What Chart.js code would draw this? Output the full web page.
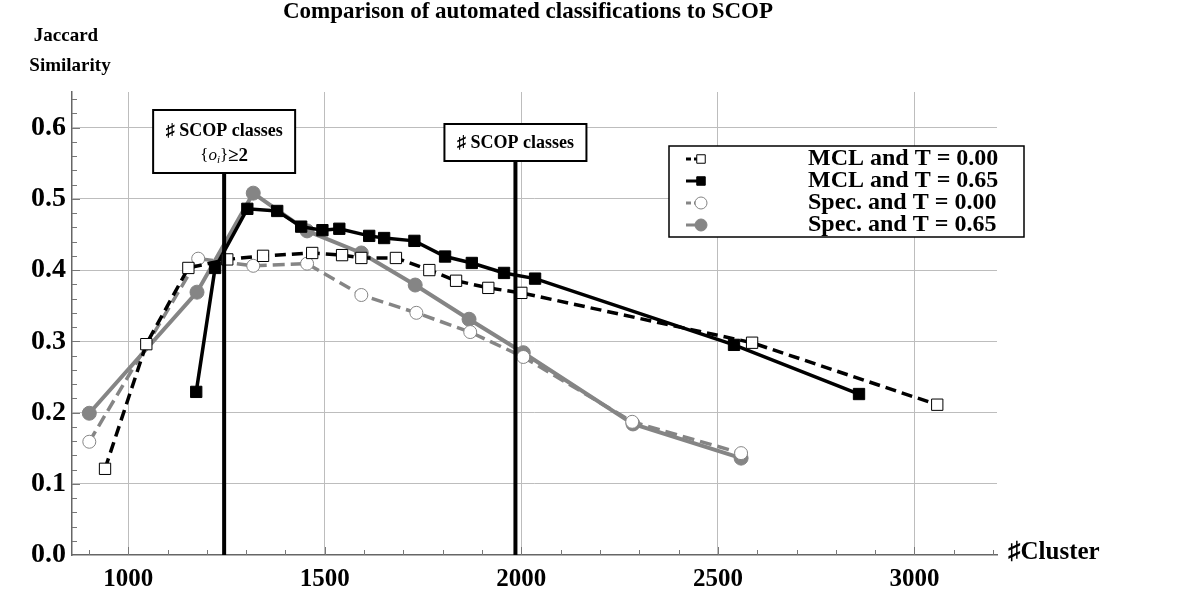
<!DOCTYPE html>
<html>
<head>
<meta charset="utf-8">
<title>Comparison of automated classifications to SCOP</title>
<script src="https://cdn.jsdelivr.net/npm/chart.js@4/dist/chart.umd.min.js"></script>
<style>
  html, body { margin: 0; padding: 0; background: #fff; }
  #chart { display: block; }
</style>
</head>
<body>
<canvas id="chart" width="1200" height="610"></canvas>
<script>
// values
const mclT000X = [941, 1046, 1153, 1252, 1343, 1468, 1544, 1593, 1681, 1766, 1834, 1916, 2000, 2587, 3058];
const mclT000Y = [0.121, 0.296, 0.403, 0.415, 0.420, 0.424, 0.421, 0.417, 0.417, 0.400, 0.385, 0.375, 0.368, 0.298, 0.211];

const mclT065X = [1173, 1221, 1303, 1379, 1440, 1494, 1537, 1613, 1651, 1728, 1806, 1874, 1956, 2035, 2541, 2859];
const mclT065Y = [0.229, 0.403, 0.486, 0.483, 0.461, 0.456, 0.458, 0.448, 0.445, 0.441, 0.419, 0.410, 0.396, 0.388, 0.295, 0.226];

const specT000X = [901, 1178, 1318, 1455, 1593, 1733, 1870, 2005, 2282, 2559];
const specT000Y = [0.159, 0.416, 0.406, 0.409, 0.365, 0.340, 0.313, 0.278, 0.187, 0.143];

const specT065X = [901, 1175, 1318, 1455, 1593, 1730, 1867, 2005, 2284, 2559];
const specT065Y = [0.199, 0.369, 0.508, 0.455, 0.424, 0.379, 0.331, 0.284, 0.184, 0.136];

const seriesLabels = ['MCL and T = 0.00', 'MCL and T = 0.65', 'Spec. and T = 0.00', 'Spec. and T = 0.65'];

// tick positions (minor every 100 / 0.02, labelled every 500 / 0.1)
const xTickValues = [];
for (let v = 900; v <= 3200; v += 100) xTickValues.push(v);
const yTickValues = [];
for (let i = 0; i <= 32; i++) yTickValues.push(Math.round(i * 2) / 100);

// the two reference lines
const scopLines = [
  { x: 1244, lines: ['\u266F SCOP classes', 'oi'] },
  { x: 1985, lines: ['\u266F SCOP classes'] }
];

const SERIF = '"Liberation Serif", "DejaVu Serif", serif';
const GRAY = '#858585';

const toPoints = (xs, ys) => xs.map((x, i) => ({ x: x, y: ys[i] }));

const isMajorX = v => v % 500 === 0;
const isMajorY = v => Math.abs(v * 10 - Math.round(v * 10)) < 1e-6;

// minor tick marks point into the plot, so draw them by hand
const tickMarks = {
  id: 'tickMarks',
  afterDraw(chart) {
    const { ctx, chartArea: a, scales: { x, y } } = chart;
    ctx.save();
    ctx.strokeStyle = '#777';
    ctx.lineWidth = 1;
    yTickValues.forEach(v => {
      if (v === 0) return;
      const py = Math.round(y.getPixelForValue(v)) + 0.5;
      ctx.beginPath();
      ctx.moveTo(a.left, py);
      ctx.lineTo(a.left + (isMajorY(v) ? 8 : 5), py);
      ctx.stroke();
    });
    xTickValues.forEach(v => {
      const px = Math.round(x.getPixelForValue(v)) + 0.5;
      ctx.beginPath();
      ctx.moveTo(px, a.bottom);
      ctx.lineTo(px, a.bottom - (isMajorX(v) ? 8 : 5));
      ctx.stroke();
    });
    ctx.restore();
  }
};

// vertical SCOP lines with their label boxes
const scopMarkers = {
  id: 'scopMarkers',
  afterDatasetsDraw(chart) {
    const { ctx, chartArea: a, scales: { x } } = chart;
    ctx.save();
    scopLines.forEach(m => {
      const px = x.getPixelForValue(m.x);
      const two = m.lines.length > 1;
      const boxW = 142;
      const boxTop = two ? 110 : 124;
      const boxH = two ? 63 : 37;
      ctx.strokeStyle = '#000';
      ctx.lineWidth = 4;
      ctx.beginPath();
      ctx.moveTo(px, boxTop + boxH);
      ctx.lineTo(px, a.bottom);
      ctx.stroke();

      ctx.fillStyle = '#fff';
      ctx.fillRect(px - boxW / 2, boxTop, boxW, boxH);
      ctx.lineWidth = 2;
      ctx.strokeRect(px - boxW / 2, boxTop, boxW, boxH);

      ctx.fillStyle = '#000';
      ctx.textAlign = 'center';
      ctx.textBaseline = 'middle';
      ctx.font = 'bold 18px ' + SERIF;
      ctx.fillText(m.lines[0], px, boxTop + (two ? 21 : 19));
      if (two) {
        // {o_i}≥2
        const yy = boxTop + 46;
        const parts = [
          { t: '{', f: '17px ' + SERIF, dy: 0 },
          { t: 'o', f: 'italic 17px ' + SERIF, dy: 0 },
          { t: 'i', f: 'italic 11px ' + SERIF, dy: 4 },
          { t: '}', f: '17px ' + SERIF, dy: 0 },
          { t: '\u22652', f: 'bold 19px ' + SERIF, dy: 0 }
        ];
        let w = 0;
        parts.forEach(p => { ctx.font = p.f; p.w = ctx.measureText(p.t).width; w += p.w; });
        let cx = px - w / 2;
        ctx.textAlign = 'left';
        parts.forEach(p => {
          ctx.font = p.f;
          ctx.fillText(p.t, cx, yy + p.dy);
          cx += p.w;
        });
      }
    });
    ctx.restore();
  }
};

// titles and the boxed legend
const decorations = {
  id: 'decorations',
  afterDraw(chart) {
    const { ctx } = chart;
    ctx.save();
    ctx.fillStyle = '#000';
    ctx.textBaseline = 'middle';
    ctx.textAlign = 'center';
    ctx.font = 'bold 23px ' + SERIF;
    ctx.fillText('Comparison of automated classifications to SCOP', 528, 12);
    ctx.font = 'bold 19px ' + SERIF;
    ctx.fillText('Jaccard', 66, 36);
    ctx.fillText('Similarity', 70, 66);
    ctx.textAlign = 'left';
    ctx.font = 'bold 25px ' + SERIF;
    ctx.fillText('\u266FCluster', 1008, 553);

    // legend box
    const lx = 669, ly = 146, lw = 355, lh = 91;
    ctx.fillStyle = '#fff';
    ctx.fillRect(lx, ly, lw, lh);
    ctx.strokeStyle = '#000';
    ctx.lineWidth = 1.5;
    ctx.strokeRect(lx, ly, lw, lh);
    chart.data.datasets.forEach((ds, i) => {
      const ry = 159 + i * 22;
      ctx.save();
      ctx.strokeStyle = ds.borderColor;
      ctx.lineWidth = 3;
      ctx.setLineDash(ds.borderDash && ds.borderDash.length ? [5, 3] : []);
      ctx.beginPath();
      ctx.moveTo(686, ry);
      ctx.lineTo(700, ry);
      ctx.stroke();
      ctx.restore();
      ctx.save();
      ctx.fillStyle = ds.pointBackgroundColor;
      ctx.strokeStyle = ds.pointBorderColor;
      ctx.lineWidth = 1;
      Chart.helpers.drawPoint(ctx, { pointStyle: ds.pointStyle, rotation: 0, borderWidth: 1, radius: 6 }, 701, ry);
      ctx.restore();
      ctx.fillStyle = '#000';
      ctx.font = 'bold 24px ' + SERIF;
      ctx.textAlign = 'left';
      ctx.fillText(seriesLabels[i], 808, ry);
    });
    ctx.restore();
  }
};

new Chart(document.getElementById('chart').getContext('2d'), {
  type: 'line',
  data: {
    datasets: [
      {
        label: seriesLabels[0],
        data: toPoints(mclT000X, mclT000Y),
        borderColor: '#000',
        borderWidth: 3.5,
        borderDash: [11, 6],
        pointStyle: 'rect',
        pointRadius: 8,
        pointBackgroundColor: '#fff',
        pointBorderColor: '#000',
        pointBorderWidth: 1
      },
      {
        label: seriesLabels[1],
        data: toPoints(mclT065X, mclT065Y),
        borderColor: '#000',
        borderWidth: 3.5,
        borderDash: [],
        pointStyle: 'rect',
        pointRadius: 8,
        pointBackgroundColor: '#000',
        pointBorderColor: '#000',
        pointBorderWidth: 1
      },
      {
        label: seriesLabels[2],
        data: toPoints(specT000X, specT000Y),
        borderColor: GRAY,
        borderWidth: 3.5,
        borderDash: [12, 6],
        pointStyle: 'circle',
        pointRadius: 6.5,
        pointBackgroundColor: '#fff',
        pointBorderColor: GRAY,
        pointBorderWidth: 1
      },
      {
        label: seriesLabels[3],
        data: toPoints(specT065X, specT065Y),
        borderColor: GRAY,
        borderWidth: 4,
        borderDash: [],
        pointStyle: 'circle',
        pointRadius: 7,
        pointBackgroundColor: GRAY,
        pointBorderColor: GRAY,
        pointBorderWidth: 1
      }
    ]
  },
  options: {
    responsive: false,
    animation: false,
    layout: { padding: { top: 92, right: 203, left: 0, bottom: 0 } },
    plugins: {
      legend: { display: false },
      tooltip: { enabled: false },
      title: { display: false }
    },
    elements: { line: { tension: 0 } },
    scales: {
      x: {
        type: 'linear',
        min: 857,
        max: 3210,
        afterBuildTicks: s => { s.ticks = xTickValues.map(v => ({ value: v })); },
        afterFit: s => { s.height = 55; },
        border: { color: '#666', width: 1.5 },
        grid: {
          drawTicks: false,
          color: c => (c.tick && isMajorX(c.tick.value)) ? '#bdbdbd' : 'rgba(0,0,0,0)',
          lineWidth: 1
        },
        ticks: {
          autoSkip: false,
          maxRotation: 0,
          padding: 10,
          color: '#000',
          font: { family: SERIF, weight: 'bold', size: 25 },
          callback: v => isMajorX(v) ? String(v) : ''
        }
      },
      y: {
        type: 'linear',
        min: 0,
        max: 0.65,
        afterBuildTicks: s => { s.ticks = yTickValues.map(v => ({ value: v })); },
        afterFit: s => { s.width = 72; },
        border: { color: '#666', width: 1.5 },
        grid: {
          drawTicks: false,
          color: c => (c.tick && c.tick.value > 0 && isMajorY(c.tick.value)) ? '#bdbdbd' : 'rgba(0,0,0,0)',
          lineWidth: 1
        },
        ticks: {
          autoSkip: false,
          padding: 6,
          color: '#000',
          font: { family: SERIF, weight: 'bold', size: 28 },
          callback: v => isMajorY(v) ? v.toFixed(1) : ''
        }
      }
    }
  },
  plugins: [tickMarks, scopMarkers, decorations]
});
</script>
</body>
</html>
